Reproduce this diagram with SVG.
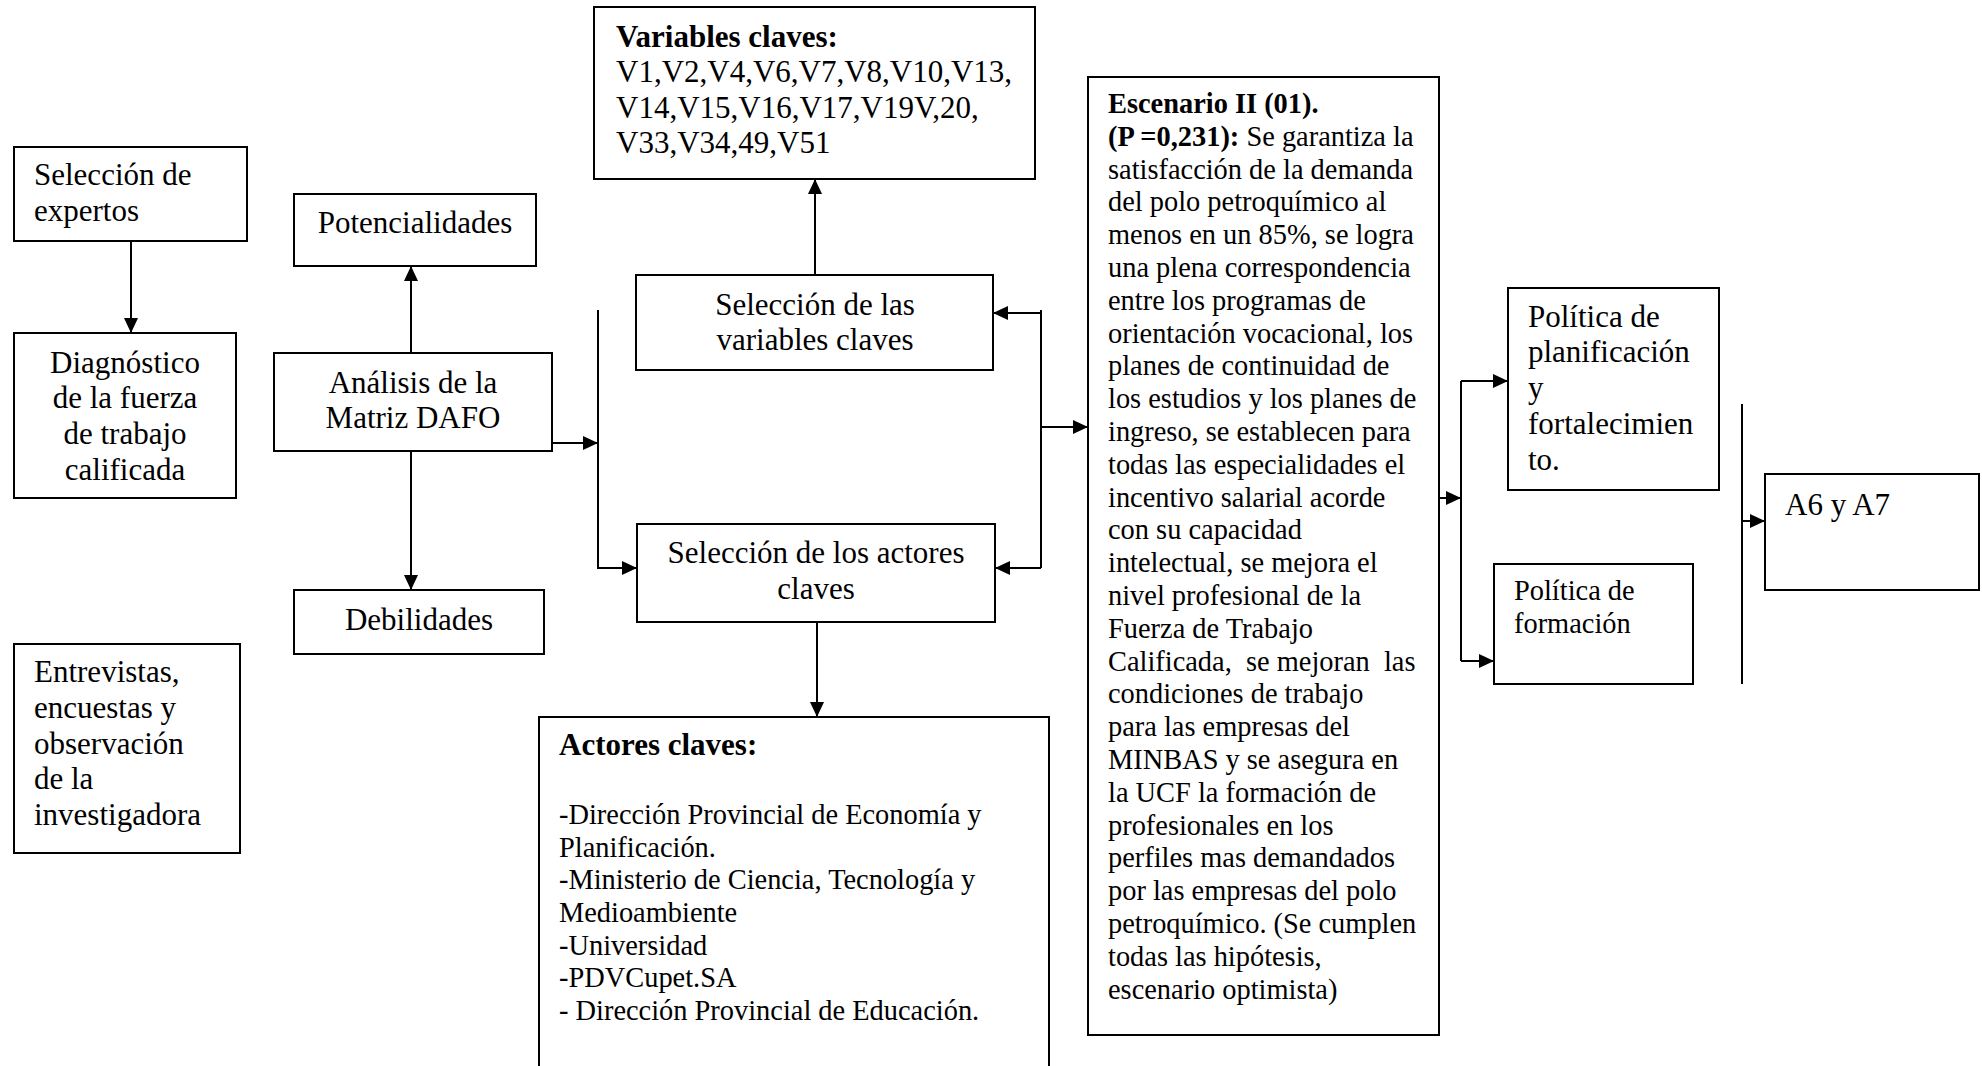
<svg xmlns="http://www.w3.org/2000/svg" width="1982" height="1066" viewBox="0 0 1982 1066">
<style>
.box{fill:#fff;stroke:#000;stroke-width:2}
.t{font-family:"Liberation Serif","Times New Roman",serif;font-size:31px;fill:#000}
.s{font-family:"Liberation Serif","Times New Roman",serif;font-size:28.4px;fill:#000}
.c{text-anchor:middle}
.b{font-weight:bold}
.ln{stroke:#000;stroke-width:2;fill:none}
.ar{marker-end:url(#ah)}
</style>
<defs>
<marker id="ah" markerUnits="userSpaceOnUse" markerWidth="16" markerHeight="14" refX="15" refY="7" orient="auto">
<path d="M0,0 L15,7 L0,14 z" fill="#000"/>
</marker>
</defs>
<rect width="1982" height="1066" fill="#fff"/>

<g id="seleccion-expertos">
<rect class="box" x="14" y="147" width="233" height="94"/>
<text class="t" x="34" y="185">Selección de</text>
<text class="t" x="34" y="221">expertos</text>
</g>

<g id="diagnostico">
<rect class="box" x="14" y="333" width="222" height="165"/>
<text class="t c" x="125" y="373">Diagnóstico</text>
<text class="t c" x="125" y="408">de la fuerza</text>
<text class="t c" x="125" y="444">de trabajo</text>
<text class="t c" x="125" y="480">calificada</text>
</g>

<g id="entrevistas">
<rect class="box" x="14" y="644" width="226" height="209"/>
<text class="t" x="34" y="682">Entrevistas,</text>
<text class="t" x="34" y="718">encuestas y</text>
<text class="t" x="34" y="754">observación</text>
<text class="t" x="34" y="789">de la</text>
<text class="t" x="34" y="825">investigadora</text>
</g>

<g id="potencialidades">
<rect class="box" x="294" y="194" width="242" height="72"/>
<text class="t c" x="415" y="233">Potencialidades</text>
</g>

<g id="analisis-dafo">
<rect class="box" x="274" y="353" width="278" height="98"/>
<text class="t c" x="413" y="393">Análisis de la</text>
<text class="t c" x="413" y="428">Matriz DAFO</text>
</g>

<g id="debilidades">
<rect class="box" x="294" y="590" width="250" height="64"/>
<text class="t c" x="419" y="630">Debilidades</text>
</g>

<g id="variables-claves">
<rect class="box" x="594" y="7" width="441" height="172"/>
<text class="t b" x="616" y="47">Variables claves:</text>
<text class="t" x="616" y="82">V1,V2,V4,V6,V7,V8,V10,V13,</text>
<text class="t" x="616" y="118">V14,V15,V16,V17,V19V,20,</text>
<text class="t" x="616" y="153">V33,V34,49,V51</text>
</g>

<g id="seleccion-variables">
<rect class="box" x="636" y="275" width="357" height="95"/>
<text class="t c" x="815" y="315">Selección de las</text>
<text class="t c" x="815" y="350">variables claves</text>
</g>

<g id="seleccion-actores">
<rect class="box" x="637" y="524" width="358" height="98"/>
<text class="t c" x="816" y="563">Selección de los actores</text>
<text class="t c" x="816" y="599">claves</text>
</g>

<g id="actores-claves">
<rect class="box" x="539" y="717" width="510" height="360"/>
<text class="t b" x="559" y="755">Actores claves:</text>
<text class="s" x="559" y="824">-Dirección Provincial de Economía y</text>
<text class="s" x="559" y="857">Planificación.</text>
<text class="s" x="559" y="889">-Ministerio de Ciencia, Tecnología y</text>
<text class="s" x="559" y="922">Medioambiente</text>
<text class="s" x="559" y="955">-Universidad</text>
<text class="s" x="559" y="987">-PDVCupet.SA</text>
<text class="s" x="559" y="1020">- Dirección Provincial de Educación.</text>
</g>

<g id="escenario">
<rect class="box" x="1088" y="77" width="351" height="958"/>
<text class="s" x="1108" style="white-space:pre">
<tspan x="1108" y="113" class="b">Escenario II (01).</tspan>
<tspan x="1108" y="145.8"><tspan class="b">(P =0,231):</tspan> Se garantiza la</tspan>
<tspan x="1108" y="178.6">satisfacción de la demanda</tspan>
<tspan x="1108" y="211.4">del polo petroquímico al</tspan>
<tspan x="1108" y="244.2">menos en un 85%, se logra</tspan>
<tspan x="1108" y="277">una plena correspondencia</tspan>
<tspan x="1108" y="309.8">entre los programas de</tspan>
<tspan x="1108" y="342.6">orientación vocacional, los</tspan>
<tspan x="1108" y="375.4">planes de continuidad de</tspan>
<tspan x="1108" y="408.2">los estudios y los planes de</tspan>
<tspan x="1108" y="441">ingreso, se establecen para</tspan>
<tspan x="1108" y="473.8">todas las especialidades el</tspan>
<tspan x="1108" y="506.6">incentivo salarial acorde</tspan>
<tspan x="1108" y="539.4">con su capacidad</tspan>
<tspan x="1108" y="572.2">intelectual, se mejora el</tspan>
<tspan x="1108" y="605">nivel profesional de la</tspan>
<tspan x="1108" y="637.8">Fuerza de Trabajo</tspan>
<tspan x="1108" y="670.6">Calificada,  se mejoran  las</tspan>
<tspan x="1108" y="703.4">condiciones de trabajo</tspan>
<tspan x="1108" y="736.2">para las empresas del</tspan>
<tspan x="1108" y="769">MINBAS y se asegura en</tspan>
<tspan x="1108" y="801.8">la UCF la formación de</tspan>
<tspan x="1108" y="834.6">profesionales en los</tspan>
<tspan x="1108" y="867.4">perfiles mas demandados</tspan>
<tspan x="1108" y="900.2">por las empresas del polo</tspan>
<tspan x="1108" y="933">petroquímico. (Se cumplen</tspan>
<tspan x="1108" y="965.8">todas las hipótesis,</tspan>
<tspan x="1108" y="998.6">escenario optimista)</tspan>
</text>
</g>

<g id="politica-planificacion">
<rect class="box" x="1508" y="288" width="211" height="202"/>
<text class="t" x="1528" y="327">Política de</text>
<text class="t" x="1528" y="362">planificación</text>
<text class="t" x="1528" y="398">y</text>
<text class="t" x="1528" y="434">fortalecimien</text>
<text class="t" x="1528" y="470">to.</text>
</g>

<g id="politica-formacion">
<rect class="box" x="1494" y="564" width="199" height="120"/>
<text class="s" x="1514" y="600">Política de</text>
<text class="s" x="1514" y="633">formación</text>
</g>

<g id="a6-a7">
<rect class="box" x="1765" y="474" width="214" height="116"/>
<text class="t" x="1785" y="515">A6 y A7</text>
</g>

<g id="connectors">
<line class="ln ar" x1="131" y1="241" x2="131" y2="333"/>
<line class="ln ar" x1="411" y1="353" x2="411" y2="266"/>
<line class="ln ar" x1="411" y1="451" x2="411" y2="590"/>
<line class="ln ar" x1="552" y1="443" x2="598" y2="443"/>
<polyline class="ln ar" points="598,310 598,568 637,568"/>
<line class="ln ar" x1="815" y1="275" x2="815" y2="179"/>
<line class="ln" x1="1041" y1="310" x2="1041" y2="568"/>
<line class="ln ar" x1="1041" y1="313" x2="993" y2="313"/>
<line class="ln ar" x1="1041" y1="568" x2="995" y2="568"/>
<line class="ln ar" x1="1041" y1="427" x2="1088" y2="427"/>
<line class="ln ar" x1="817" y1="622" x2="817" y2="717"/>
<line class="ln ar" x1="1439" y1="498" x2="1461" y2="498"/>
<line class="ln" x1="1461" y1="381" x2="1461" y2="661"/>
<line class="ln ar" x1="1461" y1="381" x2="1508" y2="381"/>
<line class="ln ar" x1="1461" y1="661" x2="1494" y2="661"/>
<line class="ln" x1="1742" y1="404" x2="1742" y2="684"/>
<line class="ln ar" x1="1742" y1="521" x2="1765" y2="521"/>
</g>
</svg>
